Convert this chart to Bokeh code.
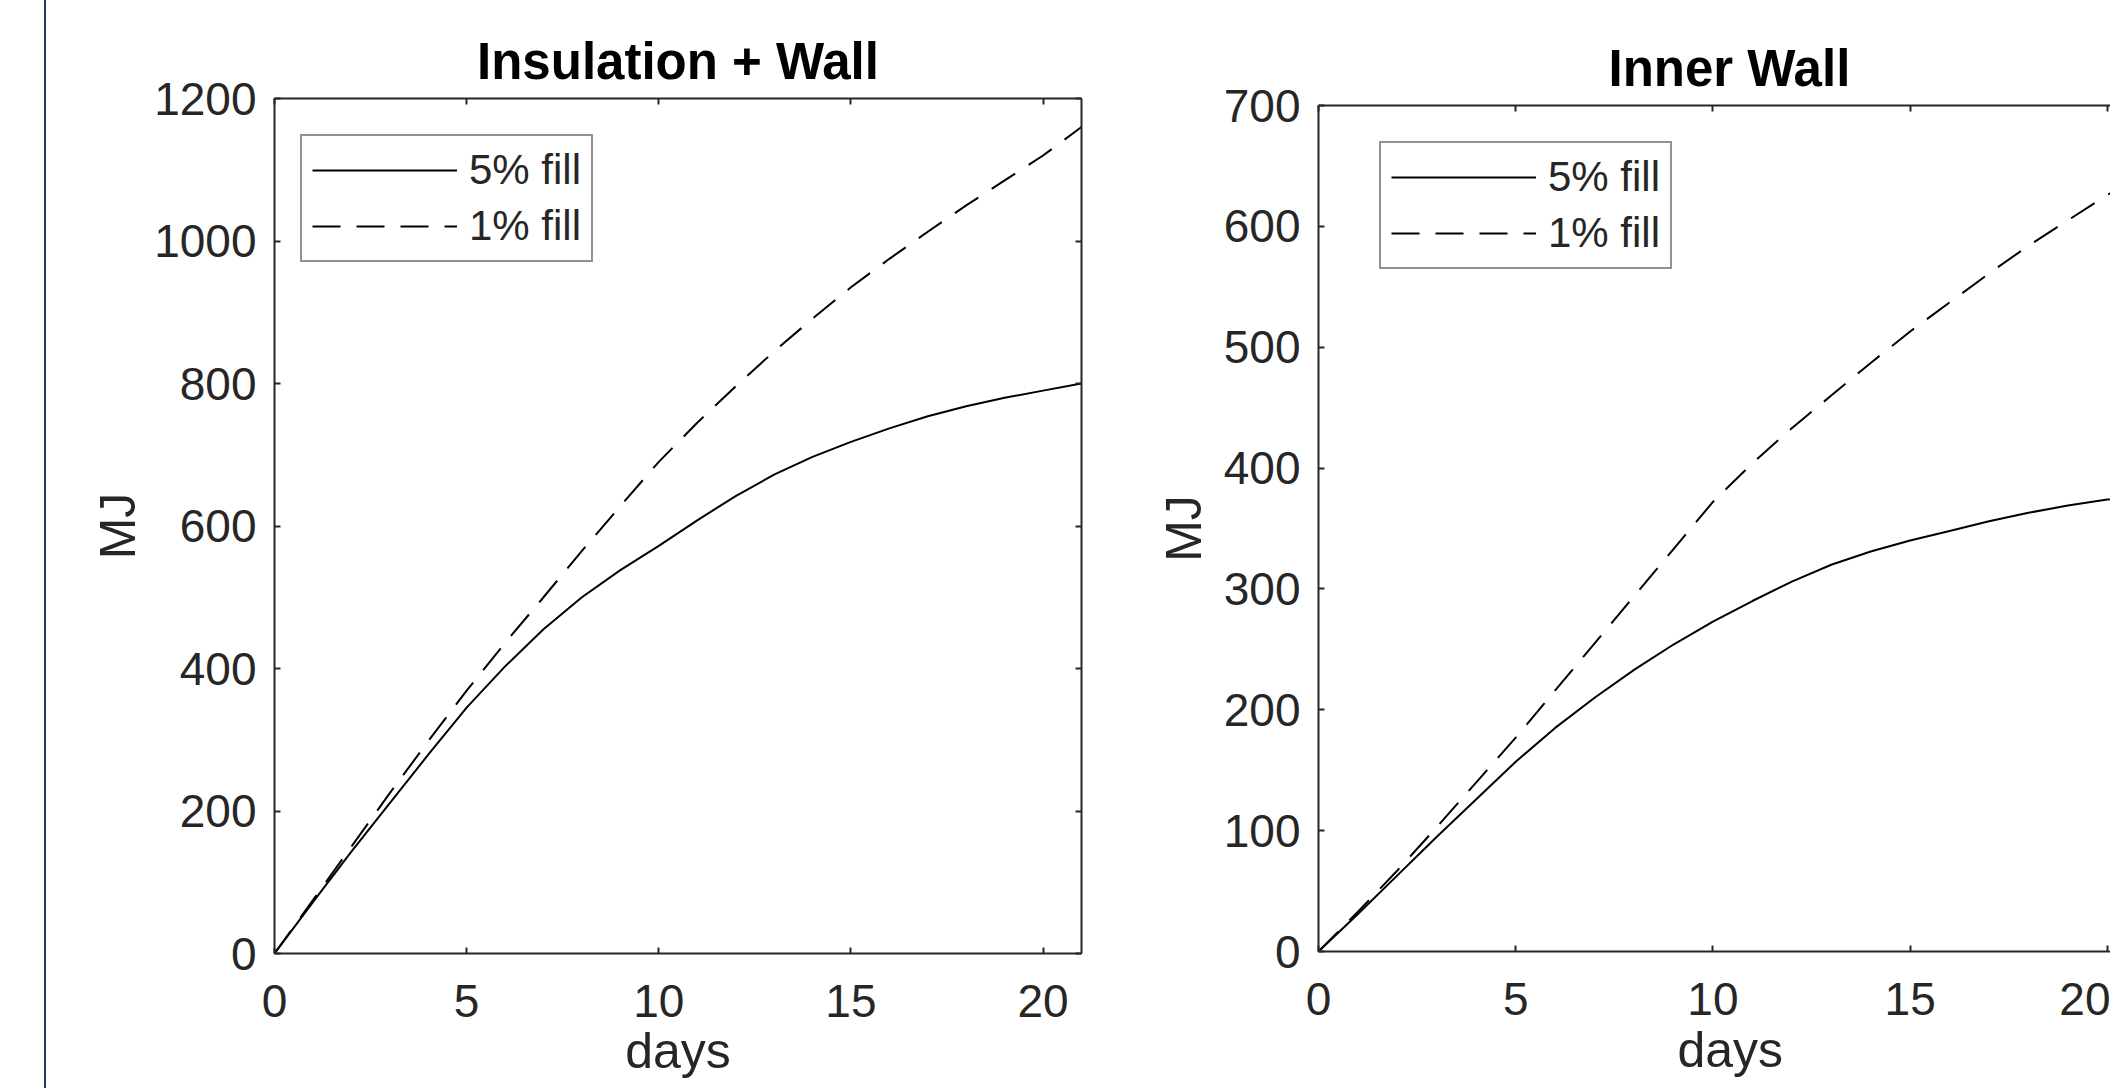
from bokeh.plotting import figure
from bokeh.models import Range1d, FixedTicker, LinearAxis, Legend, LegendItem, Div, Spacer, Title
from bokeh.layouts import row, column
from bokeh.embed import file_html
from bokeh.resources import INLINE

# ---- data ----
days = list(range(0, 22))

wall_title = "Insulation + Wall"
inner_title = "Inner Wall"
x_label = "days"
y_label = "MJ"
series_labels = ["5% fill", "1% fill"]

wall_fill5 = [0, 72, 143, 211, 279, 345, 403, 455, 500, 538, 572, 608, 642, 672, 697, 718, 737, 754, 768, 780, 790, 800]
wall_fill1 = [0, 75, 150, 225, 298, 369, 436, 500, 565, 628, 690, 745, 796, 845, 891, 935, 975, 1013, 1050, 1085, 1120, 1160]

inner_fill5 = [0, 31, 63, 95, 126, 157, 185, 210, 233, 254, 273, 290, 306, 320, 331, 340, 348, 356, 363, 369, 374, 378]
inner_fill1 = [0, 33, 67, 103, 140, 177, 216, 255, 294, 333, 372, 404, 433, 460, 487, 513, 537, 561, 584, 605, 626, 645]

x_ticks = [0, 5, 10, 15, 20]
wall_y_ticks = [0, 200, 400, 600, 800, 1000, 1200]
inner_y_ticks = [0, 100, 200, 300, 400, 500, 600, 700]

FONT = "Liberation Sans"
TXT = "#262626"
AX = "#262626"
TICK_FS = "46px"
LABEL_FS = "50px"
TITLE_FS = "51px"
LEG_FS = "42px"


def set_standoff(t, v):
    try:
        t.standoff = v
    except Exception:
        t.standoff = 0


def style_axis(ax, ticker, show_labels=True):
    ax.ticker = FixedTicker(ticks=ticker)
    ax.axis_line_color = AX
    ax.axis_line_width = 2
    ax.major_tick_line_color = AX
    ax.major_tick_line_width = 2
    ax.major_tick_in = 6
    ax.major_tick_out = 0
    ax.minor_tick_in = 0
    ax.minor_tick_out = 0
    ax.major_label_text_font = FONT
    ax.axis_label_text_font = FONT
    ax.axis_label_text_font_style = "normal"
    ax.axis_label_text_color = TXT
    ax.axis_label_text_font_size = LABEL_FS
    if show_labels:
        ax.major_label_text_font_size = TICK_FS
        ax.major_label_text_color = TXT
    else:
        ax.major_label_text_font_size = "1px"
        ax.major_label_text_color = None
        ax.major_label_standoff = 0


def make_panel(title, x_end, y_end, y_ticks, s5, s1, width, height, mbl, mbr, mbt, mbb,
               leg_loc, ylab_standoff, title_standoff, xlab_standoff,
               title_align="center", title_offset=0, xlab_offset=0, right_axis=True):
    p = figure(width=width, height=height, output_backend="svg", toolbar_location=None,
               x_range=Range1d(0, x_end), y_range=Range1d(0, y_end),
               min_border_left=mbl, min_border_right=mbr,
               min_border_top=mbt, min_border_bottom=mbb,
               background_fill_color="white", border_fill_color="white")
    p.outline_line_color = None
    p.xgrid.visible = False
    p.ygrid.visible = False

    p.title.text = title
    p.title.text_font = FONT
    p.title.text_font_size = TITLE_FS
    p.title.text_font_style = "bold"
    p.title.text_color = "#000000"
    p.title.align = title_align
    p.title.offset = title_offset
    set_standoff(p.title, title_standoff)

    style_axis(p.xaxis[0], x_ticks)
    p.xaxis[0].major_label_standoff = 31

    style_axis(p.yaxis[0], y_ticks)
    p.yaxis[0].axis_label = y_label
    p.yaxis[0].major_label_standoff = 18
    p.yaxis[0].axis_label_standoff = ylab_standoff

    top = LinearAxis()
    style_axis(top, x_ticks, show_labels=False)
    p.add_layout(top, "above")
    if right_axis:
        rt = LinearAxis()
        style_axis(rt, y_ticks, show_labels=False)
        p.add_layout(rt, "right")

    xt = Title(text=x_label, text_font=FONT, text_font_size=LABEL_FS,
               text_font_style="normal", text_color=TXT,
               align=title_align, offset=xlab_offset, vertical_align="top")
    set_standoff(xt, xlab_standoff)
    p.add_layout(xt, "below")

    r5 = p.line(days, s5, line_color="black", line_width=2)
    r1 = p.line(days, s1, line_color="black", line_width=2, line_dash="28 16")

    leg = Legend(items=[LegendItem(label=series_labels[0], renderers=[r5]),
                        LegendItem(label=series_labels[1], renderers=[r1])],
                 location=leg_loc)
    leg.border_line_color = AX
    leg.border_line_width = 2
    leg.background_fill_color = "white"
    leg.background_fill_alpha = 1
    leg.label_text_font = FONT
    leg.label_text_font_size = LEG_FS
    leg.label_text_color = TXT
    leg.glyph_width = 145
    leg.glyph_height = 40
    leg.label_height = 40
    leg.label_standoff = 12
    leg.padding = 10
    leg.spacing = 8
    leg.margin = 0
    p.add_layout(leg)
    return p


left = make_panel(wall_title, 21, 1200, wall_y_ticks, wall_fill5, wall_fill1,
                  width=1054, height=1088, mbl=228, mbr=19, mbt=98, mbb=135,
                  leg_loc=(26, 691), ylab_standoff=5, title_standoff=17,
                  xlab_standoff=6)
right = make_panel(inner_title, 20.08, 700, inner_y_ticks, inner_fill5, inner_fill1,
                   width=1010, height=1081, mbl=218, mbr=0, mbt=98, mbb=137,
                   leg_loc=(61, 682), ylab_standoff=9, title_standoff=18,
                   xlab_standoff=8, title_align="left", title_offset=290,
                   xlab_offset=359, right_axis=False)

gap = Spacer(width=44, height=1088)
navy = Div(text="", width=2, height=1088, margin=(0, 0, 0, 0),
           styles={"background-color": "#203864"})
right_col = column(Spacer(width=1010, height=7), right, spacing=0)

layout = row(gap, navy, left, right_col, spacing=0)

open("out.html", "w").write(file_html(layout, INLINE))
